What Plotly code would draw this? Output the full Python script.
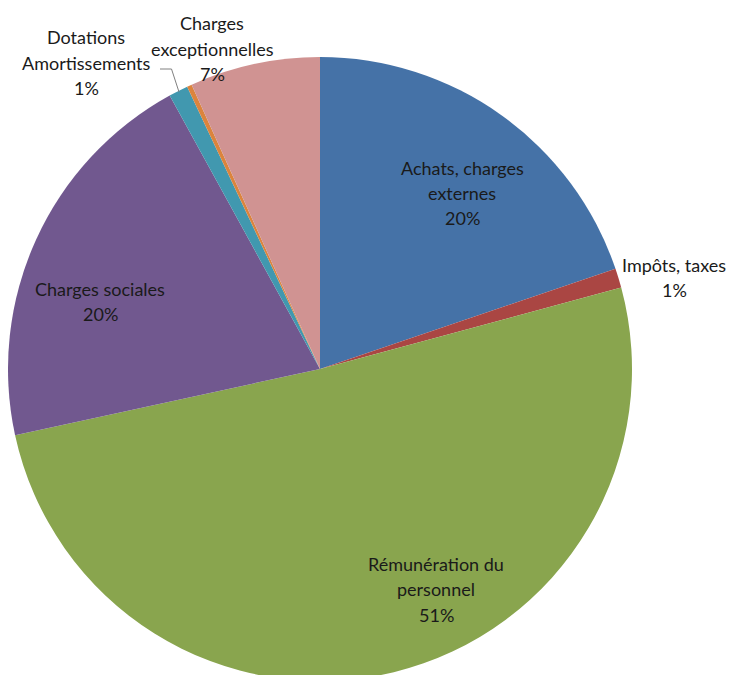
import plotly.graph_objects as go

# ---- data ----
categories = ["Achats, charges externes", "Impôts, taxes", "Rémunération du personnel",
              "Charges sociales", "Dotations Amortissements", "Charges financières",
              "Charges exceptionnelles"]
values = [19.8, 1.0, 50.8, 20.4, 1.0, 0.25, 6.75]
colors = ["#4572A7", "#AA4643", "#89A54E", "#71588F", "#4198AF", "#DB843D", "#D09392"]
# label lines shown on the chart (name split as in the picture); None = no label
label_lines = [["Achats, charges", "externes"], ["Impôts, taxes"], ["Rémunération du", "personnel"],
               ["Charges sociales"], ["Dotations", "Amortissements"], None,
               ["Charges", "exceptionnelles"]]

W, H = 736, 675
OFF = 8  # page body margin offsets the figure by 8px
# label anchor (x centre, first line y) in page pixels, and line spacing
label_pos = [(462, 167.5), (674, 264.5), (436, 563.5), (100.5, 288.7), (86, 37), None, (212, 23)]
line_gap = 25.5

total = sum(values)
pct_text = [f"{round(v / total * 100)}%" for v in values]


def px(x):
    return (x - OFF) / W


def py(y):
    return 1 - (y - OFF) / H


fig = go.Figure(go.Pie(
    labels=categories,
    values=values,
    sort=False,
    direction="clockwise",
    rotation=0,
    marker=dict(colors=colors, line=dict(width=0)),
    textinfo="none",
    showlegend=False,
    domain=dict(x=[0, 624 / W], y=[1 - 673 / H, 1 - 49 / H]),
))

font = dict(family="Lato, 'Open Sans', sans-serif", size=18, color="#1a1a1a")
annotations = []
for lines, pos, pct in zip(label_lines, label_pos, pct_text):
    if lines is None:
        continue
    all_lines = lines + [pct]
    x0, y0 = pos
    for i, t in enumerate(all_lines):
        annotations.append(dict(
            x=px(x0), y=py(y0 + i * line_gap), xref="paper", yref="paper",
            text=t, showarrow=False, xanchor="center", yanchor="middle",
            font=font,
        ))

# leader line for "Dotations Amortissements"
shapes = [dict(type="path", xref="paper", yref="paper",
               path=f"M {px(160)} {py(69)} L {px(171.5)} {py(69)} L {px(179)} {py(92)}",
               line=dict(color="#808080", width=1))]

fig.update_layout(
    width=W, height=H,
    margin=dict(l=0, r=0, t=0, b=0),
    paper_bgcolor="white",
    plot_bgcolor="white",
    annotations=annotations,
    shapes=shapes,
)

fig.write_html("out.html")
